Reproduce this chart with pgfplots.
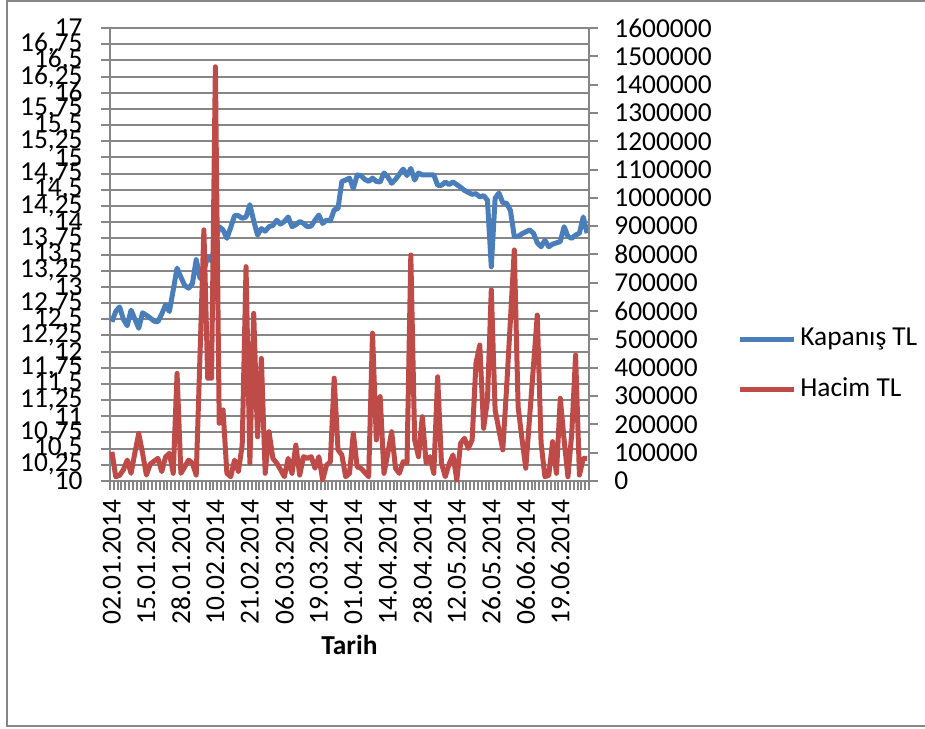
\documentclass[border=0pt]{standalone}
\usepackage{fontspec}
\setmainfont{Carlito}
\usepackage{pgfplots}
\pgfplotsset{compat=1.18}
\usepackage{pgfplotstable}
\definecolor{kblue}{RGB}{74,126,187}
\definecolor{hred}{RGB}{190,75,72}
\definecolor{gridgray}{RGB}{134,134,134}

\pgfplotstableread{
i v
0 12.46
1 12.62
2 12.69
3 12.50
4 12.40
5 12.64
6 12.50
7 12.36
8 12.60
9 12.56
10 12.52
11 12.47
12 12.46
13 12.58
14 12.72
15 12.62
16 12.95
17 13.29
18 13.15
19 13.02
20 12.98
21 13.05
22 13.42
23 13.13
24 13.25
25 13.47
26 13.40
27 13.70
28 13.93
29 13.88
30 13.75
31 13.92
32 14.10
33 14.10
34 14.06
35 14.08
36 14.27
37 14.02
38 13.80
39 13.90
40 13.86
41 13.93
42 13.95
43 14.03
44 13.97
45 14.01
46 14.08
47 13.93
48 13.96
49 14.01
50 13.98
51 13.93
52 13.94
53 14.03
54 14.11
55 13.98
56 14.03
57 14.02
58 14.19
59 14.21
60 14.63
61 14.65
62 14.68
63 14.52
64 14.73
65 14.72
66 14.66
67 14.63
68 14.68
69 14.63
70 14.62
71 14.76
72 14.70
73 14.60
74 14.66
75 14.74
76 14.82
77 14.72
78 14.83
79 14.65
80 14.76
81 14.73
82 14.73
83 14.73
84 14.73
85 14.57
86 14.57
87 14.62
88 14.58
89 14.62
90 14.58
91 14.54
92 14.49
93 14.46
94 14.43
95 14.44
96 14.39
97 14.41
98 14.34
99 13.31
100 14.37
101 14.45
102 14.30
103 14.29
104 14.18
105 13.78
106 13.78
107 13.82
108 13.85
109 13.88
110 13.83
111 13.68
112 13.62
113 13.72
114 13.62
115 13.66
116 13.68
117 13.70
118 13.93
119 13.78
120 13.75
121 13.80
122 13.83
123 14.08
124 13.83
}\kapanis

\pgfplotstableread{
i v
0 103000
1 15000
2 20000
3 40000
4 74000
5 27000
6 100000
7 168000
8 98000
9 21000
10 60000
11 70000
12 80000
13 33000
14 85000
15 98000
16 27000
17 380000
18 27000
19 50000
20 74000
21 63000
22 21000
23 450000
24 887000
25 363000
26 363000
27 1463000
28 204000
29 251000
30 27000
31 15000
32 74000
33 33000
34 127000
35 757000
36 63000
37 592000
38 156000
39 433000
40 27000
41 174000
42 80000
43 63000
44 40000
45 15000
46 80000
47 27000
48 127000
49 21000
50 86000
51 80000
52 86000
53 45000
54 86000
55 3500
56 56000
57 68000
58 363000
59 110000
60 92000
61 15000
62 27000
63 168000
64 50000
65 45000
66 30000
67 15000
68 522000
69 145000
70 298000
71 27000
72 98000
73 174000
74 45000
75 27000
76 68000
77 63000
78 798000
79 145000
80 86000
81 227000
82 63000
83 86000
84 27000
85 368000
86 63000
87 15000
88 60000
89 92000
90 3500
91 133000
92 151000
93 115000
94 145000
95 416000
96 480000
97 186000
98 286000
99 675000
100 251000
101 180000
102 110000
103 330000
104 570000
105 816000
106 262000
107 150000
108 45000
109 225000
110 405000
111 586000
112 133000
113 15000
114 20000
115 139000
116 27000
117 292000
118 145000
119 15000
120 168000
121 445000
122 21000
123 80000
124 80000
}\hacim

\begin{document}
\fontsize{13.7}{16}\selectfont
\begin{tikzpicture}
\useasboundingbox (0pt,0pt) rectangle (462.5pt,364pt);
\draw[gridgray, line width=1pt] (470pt,363.5pt) -- (3.5pt,363.5pt) -- (3.5pt,1pt) -- (470pt,1pt);
\begin{axis}[
  at={(55pt,123.5pt)}, anchor=south west, scale only axis,
  width=239.5pt, height=226.5pt,
  xmin=-0.5, xmax=124.5, ymin=10, ymax=17,
  axis x line*=bottom, axis y line*=left,
  axis line style={gridgray, line width=1pt},
  tick align=outside, major tick length=4.5pt,
  tick style={gridgray, line width=1pt},
  ytick={10,10.25,...,17.01},
  ymajorgrids, major grid style={gridgray, line width=1pt},
  xtick={-0.5,0.5,...,124.6},
  xticklabels={},
  extra x ticks={0,9,...,117},
  extra x tick labels={02.01.2014,15.01.2014,28.01.2014,10.02.2014,21.02.2014,06.03.2014,19.03.2014,01.04.2014,14.04.2014,28.04.2014,12.05.2014,26.05.2014,06.06.2014,19.06.2014},
  extra x tick style={major tick length=0pt, grid=none},
  xticklabel style={rotate=90, anchor=east, inner sep=0pt, xshift=-9pt},
  /pgf/number format/.cd, use comma, assume math mode=true, /pgfplots/.cd,
  yticklabel style={anchor=east, inner sep=0pt, xshift=-9pt},
  xlabel={\textbf{Tarih}},
  xlabel style={at={(axis description cs:0.5,0)}, anchor=center, yshift=-82pt},
  clip=false,
]
\addplot[kblue, line width=2.5pt, line join=round, no markers] table[x=i,y=v]{\kapanis};
\end{axis}
\begin{axis}[
  at={(55pt,123.5pt)}, anchor=south west, scale only axis,
  width=239.5pt, height=226.5pt,
  xmin=-0.5, xmax=124.5, ymin=0, ymax=1600000,
  axis x line=none, axis y line*=right,
  axis line style={gridgray, line width=1pt},
  tick align=outside, major tick length=4.5pt,
  tick style={gridgray, line width=1pt},
  ytick={0,100000,...,1600000},
  scaled y ticks=false,
  /pgf/number format/.cd, fixed, precision=0, 1000 sep={}, assume math mode=true, /pgfplots/.cd,
  yticklabel style={anchor=west, inner sep=0pt, xshift=8pt},
  legend cell align=left,
  legend style={draw=none, fill=none, at={(1,0.257)}, anchor=west, xshift=74pt, row sep=10pt, inner sep=0pt, nodes={inner sep=2pt}},
  legend image code/.code={\draw[#1] (0pt,0pt) -- (27pt,0pt);},
  clip=false,
]
\addlegendimage{kblue, line width=2.5pt}
\addlegendentry{Kapanış TL}
\addplot[hred, line width=2.5pt, line join=round, no markers] table[x=i,y=v]{\hacim};
\addlegendentry{Hacim TL}
\end{axis}
\end{tikzpicture}
\end{document}
